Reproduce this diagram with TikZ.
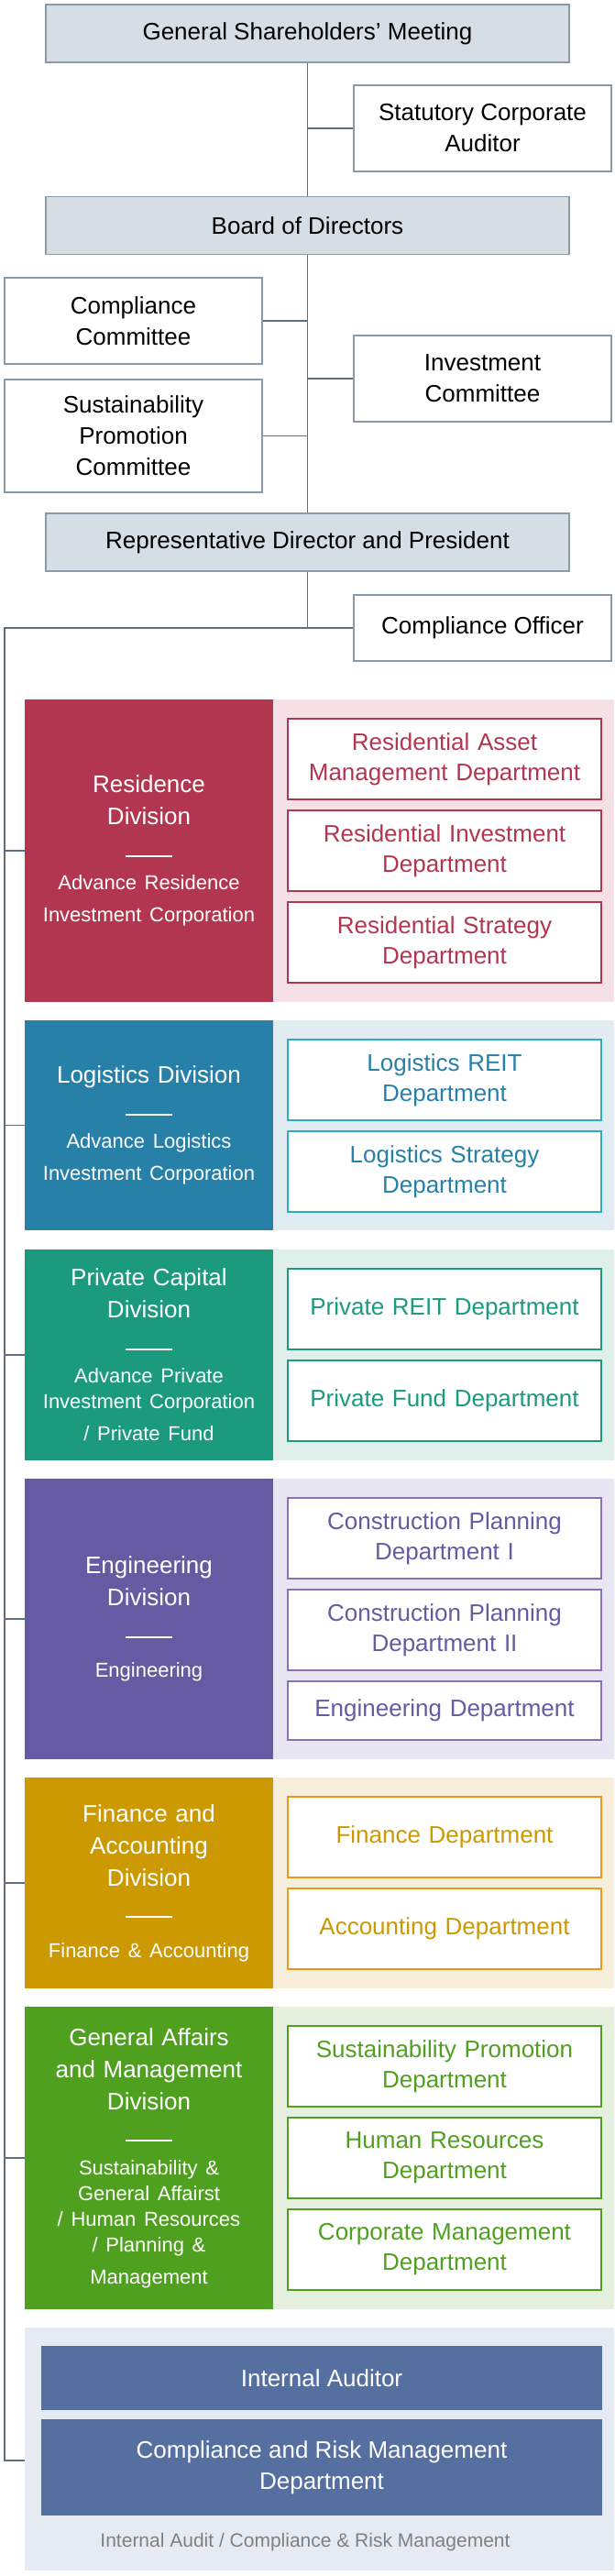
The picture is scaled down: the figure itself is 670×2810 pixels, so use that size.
\documentclass[tikz,border=0pt]{standalone}
\usepackage{fontspec}
\setmainfont{Liberation Sans}
\usetikzlibrary{positioning}
\definecolor{linegray}{RGB}{94, 112, 128}
\definecolor{topfill}{RGB}{214, 222, 229}
\definecolor{topline}{RGB}{138, 154, 168}
\definecolor{resdark}{RGB}{179, 54, 81}
\definecolor{reslight}{RGB}{245, 225, 229}
\definecolor{logdark}{RGB}{38, 128, 168}
\definecolor{logline}{RGB}{42, 175, 192}
\definecolor{loglight}{RGB}{224, 236, 242}
\definecolor{pridark}{RGB}{27, 154, 126}
\definecolor{prilight}{RGB}{223, 240, 235}
\definecolor{engdark}{RGB}{102, 90, 163}
\definecolor{engline}{RGB}{138, 112, 187}
\definecolor{englight}{RGB}{232, 230, 242}
\definecolor{findark}{RGB}{204, 153, 0}
\definecolor{finline}{RGB}{238, 153, 17}
\definecolor{finlight}{RGB}{248, 238, 220}
\definecolor{gadark}{RGB}{80, 160, 32}
\definecolor{galight}{RGB}{229, 240, 222}
\definecolor{auddark}{RGB}{85, 112, 160}
\definecolor{audlight}{RGB}{230, 234, 242}
\newcommand{\divrule}{\\[3pt]\rule[3pt]{25pt}{1pt}\\[1pt]\fontsize{11}{14}\selectfont}

\begin{document}
\begin{tikzpicture}[x=0.5pt, y=-0.5pt,
  conn/.style={draw=linegray, line width=0.8pt},
  topbox/.style={draw=topline, fill=topfill, line width=0.8pt, minimum width=285.5pt,
    minimum height=31.5pt, inner sep=0pt, font=\fontsize{13}{17}\selectfont},
  sidebox/.style={draw=topline, fill=white, line width=0.8pt, minimum width=140.5pt,
    inner sep=0pt, align=center, font=\fontsize{13}{17}\selectfont},
  divbox/.style={fill=#1, text=white, minimum width=135.5pt, inner sep=0pt,
    align=center, text width=125pt, font=\fontsize{13}{17.5}\selectfont},
  divback/.style={fill=#1, minimum width=186pt, inner sep=0pt},
  dept/.style={draw=#1, fill=white, line width=1pt, minimum width=171pt, minimum height=44pt,
    inner sep=0pt, align=center, text width=165pt, font=\fontsize{13}{16.5}\selectfont},
  audbox/.style={fill=auddark, text=white, minimum width=306pt, inner sep=0pt,
    align=center, font=\fontsize{13}{17}\selectfont}]
  \useasboundingbox (0,0) rectangle (670,2810);

  % governance
  \node[topbox] (gsm) at (335.5,36.5) {General Shareholders’ Meeting};
  \node[sidebox, minimum height=47pt] (audit) at (526.5,140) {Statutory Corporate\\Auditor};
  \node[topbox] (board) at (335.5,246) {Board of Directors};
  \node[sidebox, minimum height=47pt] (ccomm) at (145.5,350) {Compliance\\Committee};
  \node[sidebox, minimum height=61.5pt] (scomm) at (145.5,475.5) {Sustainability\\Promotion\\Committee};
  \node[sidebox, minimum height=47pt] (icomm) at (526.5,413) {Investment\\Committee};
  \node[topbox] (pres) at (335.5,591.5) {Representative Director and President};
  \node[sidebox, minimum height=36pt] (coff) at (526.5,685) {Compliance Officer};

  \draw[conn] (gsm.south) -- (board.north);
  \draw[conn] (audit.west) -- (audit.west -| gsm.south);
  \draw[conn] (board.south) -- (pres.north);
  \draw[conn] (ccomm.east) -- (ccomm.east -| board.south);
  \draw[conn] (scomm.east) -- (scomm.east -| board.south);
  \draw[conn] (icomm.west) -- (icomm.west -| board.south);
  \draw[conn] (pres.south) -- (pres.south |- coff.west);

  % divisions
  \node[divback=reslight, minimum height=165pt] (resback) at (484,928) {};
  \node[divbox=resdark, minimum height=165pt] (res) at (162.5,928)
    {Residence\\Division\divrule Advance Residence\\Investment Corporation};
  \node[dept=resdark, text=resdark] (res1) at (485,828) {Residential Asset\\Management Department};
  \node[dept=resdark, text=resdark] (res2) at (485,928) {Residential Investment\\Department};
  \node[dept=resdark, text=resdark] (res3) at (485,1028) {Residential Strategy\\Department};

  \node[divback=loglight, minimum height=114.5pt] (logback) at (484,1227.5) {};
  \node[divbox=logdark, minimum height=114.5pt] (log) at (162.5,1227.5)
    {Logistics Division\divrule Advance Logistics\\Investment Corporation};
  \node[dept=logline, text=logdark] (log1) at (485,1178) {Logistics REIT\\Department};
  \node[dept=logline, text=logdark] (log2) at (485,1278) {Logistics Strategy\\Department};

  \node[divback=prilight, minimum height=115pt] (priback) at (484,1478) {};
  \node[divbox=pridark, minimum height=115pt] (pri) at (162.5,1478)
    {Private Capital\\Division\divrule Advance Private\\Investment Corporation\\/ Private Fund};
  \node[dept=pridark, text=pridark] (pri1) at (485,1428) {Private REIT Department};
  \node[dept=pridark, text=pridark] (pri2) at (485,1528) {Private Fund Department};

  \node[divback=englight, minimum height=153pt] (engback) at (484,1766) {};
  \node[divbox=engdark, minimum height=153pt] (eng) at (162.5,1766)
    {Engineering\\Division\divrule Engineering};
  \node[dept=engline, text=engdark] (eng1) at (485,1678) {Construction Planning\\Department I};
  \node[dept=engline, text=engdark] (eng2) at (485,1778) {Construction Planning\\Department II};
  \node[dept=engline, text=engdark, minimum height=32pt] (eng3) at (485,1866) {Engineering Department};

  \node[divback=finlight, minimum height=115pt] (finback) at (484,2054) {};
  \node[divbox=findark, minimum height=115pt] (fin) at (162.5,2054)
    {Finance and\\Accounting\\Division\divrule Finance \& Accounting};
  \node[dept=finline, text=findark] (fin1) at (485,2004) {Finance Department};
  \node[dept=finline, text=findark] (fin2) at (485,2104) {Accounting Department};

  \node[divback=galight, minimum height=165pt] (gaback) at (484,2354) {};
  \node[divbox=gadark, minimum height=165pt] (ga) at (162.5,2354)
    {General Affairs\\and Management\\Division\divrule Sustainability \&\\General Affairst\\/ Human Resources\\/ Planning \&\\Management};
  \node[dept=gadark, text=gadark] (ga1) at (485,2254) {Sustainability Promotion\\Department};
  \node[dept=gadark, text=gadark] (ga2) at (485,2354) {Human Resources\\Department};
  \node[dept=gadark, text=gadark] (ga3) at (485,2454) {Corporate Management\\Department};

  % internal audit
  \node[fill=audlight, minimum width=321.5pt, minimum height=132.5pt, inner sep=0pt] (audback) at (348.5,2671.5) {};
  \node[audbox, minimum height=35pt] (iaud) at (351,2594) {Internal Auditor};
  \node[audbox, minimum height=52.5pt] (crm) at (351,2691.5) {Compliance and Risk Management\\Department};
  \node[text=gray, font=\fontsize{10.5}{12}\selectfont] (audcap) at (333,2773) {Internal Audit / Compliance \& Risk Management};

  % trunk to divisions
  \coordinate (trunktop) at (5,685);
  \coordinate (trunkend) at (5,2684);
  \draw[conn] (coff.west) -- (trunktop) -- (trunkend) -- (trunkend -| audback.west);
  \foreach \d in {res, log, pri, eng, fin, ga}
    \draw[conn] (trunktop |- \d.west) -- (\d.west);
\end{tikzpicture}
\end{document}
